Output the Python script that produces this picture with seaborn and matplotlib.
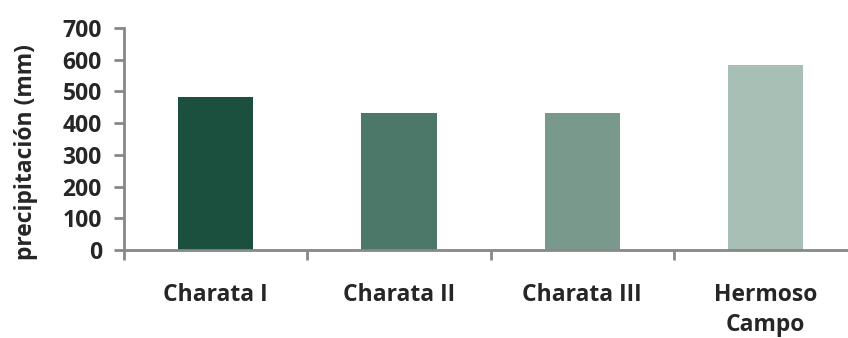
import matplotlib
matplotlib.use("Agg")
import matplotlib.pyplot as plt
import seaborn as sns
import pandas as pd
import numpy as np

# Annual precipitation per station
stations = ["Charata I", "Charata II", "Charata III", "Hermoso\nCampo"]
precip_mm = [483, 433, 432, 583]
bar_colors = ["#1B4F3E", "#4C7869", "#78998B", "#A8BFB5"]
y_ticks = [0, 100, 200, 300, 400, 500, 600, 700]

sns.set_style("white")
plt.rcParams["font.family"] = ["Open Sans", "DejaVu Sans"]
plt.rcParams["font.weight"] = "bold"
FS = 16.5

df = pd.DataFrame({"station": stations, "precip": precip_mm})

fig = plt.figure(figsize=(8.48, 3.38), dpi=100)
W, H = 848, 338
x0, y0 = 124, 250
y_top = 28
ax_w = 4 * 183.3
ax = fig.add_axes([x0 / W, 1 - y0 / H, ax_w / W, (y0 - y_top) / H])

sns.barplot(data=df, x="station", y="precip", hue="station",
            palette=bar_colors, width=0.41, legend=False, ax=ax,
            saturation=1, edgecolor="none")

ax.set_xlim(-0.5, len(stations) - 0.5)
ax.set_ylim(0, 700)
ax.set_yticks(y_ticks)
ax.set_yticklabels([str(v) for v in y_ticks], fontsize=FS, fontweight="bold")

# category labels centred, tick marks at category boundaries
ax.set_xticks(range(len(stations)))
ax.set_xticklabels(stations, fontsize=FS, fontweight="bold", linespacing=1.3)
ax.tick_params(axis="x", which="major", bottom=True, length=0, pad=24)
ax.set_xticks(np.arange(-0.5, len(stations), 1.0), minor=True)
ax.tick_params(axis="x", which="minor", bottom=True, length=7, width=2,
               color="#888888", direction="out")
ax.tick_params(axis="y", left=True, length=7, width=2, color="#888888",
               direction="out", pad=9)

for side in ["top", "right"]:
    ax.spines[side].set_visible(False)
for side in ["left", "bottom"]:
    ax.spines[side].set_color("#888888")
    ax.spines[side].set_linewidth(2)

ax.set_xlabel("")
ax.set_ylabel("precipitación (mm)", fontsize=FS, fontweight="bold")
ax.yaxis.set_label_coords(-86 / ax_w, 0.44)

fig.savefig("out.png", dpi=100)
